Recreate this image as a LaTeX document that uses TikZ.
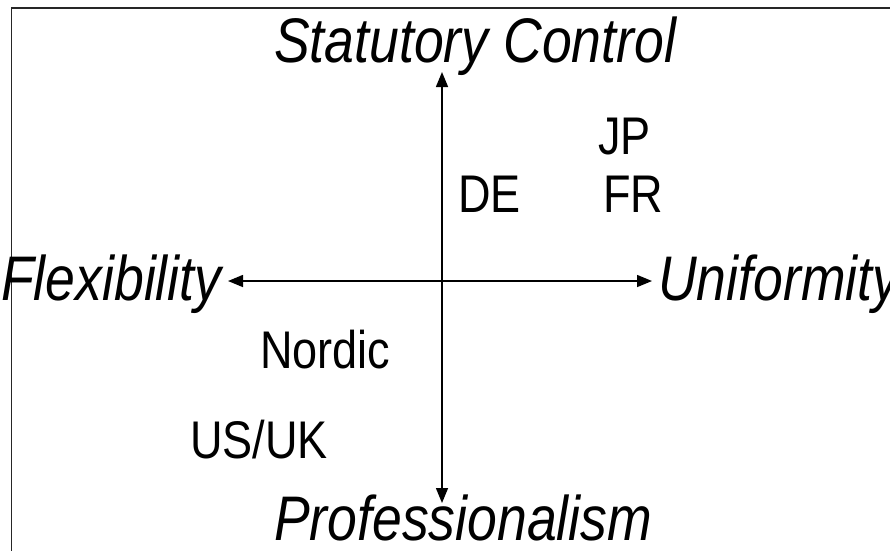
\documentclass[tikz,border=0pt]{standalone}
\usepackage{fontspec}
\setmainfont[FakeStretch=0.85]{Liberation Sans}
\usetikzlibrary{arrows.meta}

\tikzset{
  axis/.style={line width=1.5pt, {Triangle[length=15pt,width=12pt]}-{Triangle[length=15pt,width=12pt]}},
  pole/.style={inner sep=0pt, anchor=base west, font=\fontsize{63}{70}\selectfont\itshape},
  land/.style={inner sep=0pt, anchor=base west, font=\fontsize{53}{60}\selectfont},
}

\begin{document}
\begin{tikzpicture}[x=1pt,y=-1pt]
  \useasboundingbox (0,0) rectangle (890,550);
  % frame, cut off on the right and at the bottom
  \draw[line width=1.8pt,black!85] (11.5,8) rectangle (900,560);

  % the two axes
  \coordinate (sc) at (442,72);
  \coordinate (pr) at (442,503);
  \coordinate (fl) at (228,281);
  \coordinate (un) at (652,281);
  \draw[axis] (sc) -- (pr);
  \draw[axis] (fl) -- (un);

  % poles
  \node[pole] (stat) at (274,62) {Statutory Control};
  \node[pole] (prof) at (274,540) {Professionalism};
  \node[pole] (flex) at (1,300) {Flexibility};
  \node[pole] (unif) at (658,300) {Uniformity};

  % countries
  \node[land] (jp) at (598,154) {JP};
  \node[land] (fr) at (603,212) {FR};
  \node[land] (de) at (458,212) {DE};
  \node[land] (nordic) at (260,368) {Nordic};
  \node[land] (usuk) at (190,458) {US/UK};
\end{tikzpicture}
\end{document}
